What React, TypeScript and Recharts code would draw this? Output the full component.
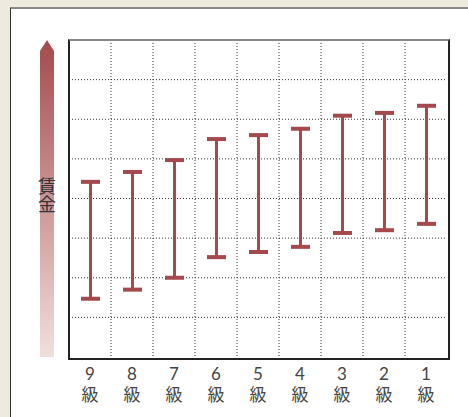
import React from 'react';
import { BarChart, Bar, XAxis, YAxis, CartesianGrid } from 'recharts';

// grades, left to right
const grades = ['9', '8', '7', '6', '5', '4', '3', '2', '1'];
// lower and upper end of each wage band (grid units, 0-8)
const lowValues = [1.47, 1.7, 2.0, 2.52, 2.65, 2.78, 3.13, 3.2, 3.36];
const highValues = [4.42, 4.67, 4.97, 5.5, 5.6, 5.76, 6.09, 6.16, 6.34];
const yTicks = [0, 1, 2, 3, 4, 5, 6, 7, 8];
const gradeSuffix = '級';
const axisTitle = '賃金';

const data = grades.map((g, i) => ({ grade: g, range: [lowValues[i], highValues[i]] }));

const RED = '#a44a4c';
const FONT = "'Noto Sans CJK JP', sans-serif";

const RangeShape = (props: any) => {
	const { x, y, width, height } = props;
	const cx = x + width / 2;
	return (
		<g>
			<rect x={cx - 1.5} y={y} width={3} height={height} fill={RED} />
			<rect x={x} y={y - 2} width={width} height={4} fill={RED} />
			<rect x={x} y={y + height - 2} width={width} height={4} fill={RED} />
		</g>
	);
};

const GradeTick = (props: any) => {
	const { x, y, payload } = props;
	return (
		<g>
			<text x={x} y={y + 15} textAnchor="middle" fill="#444" fontSize={17} fontFamily="Lato, sans-serif">{payload.value}</text>
			<text x={x} y={y + 36} textAnchor="middle" fill="#444" fontSize={17} fontFamily={FONT}>{gradeSuffix}</text>
		</g>
	);
};

export default function App() {
	return (
		<div style={{ position: 'fixed', left: 0, top: 0, width: 468, height: 417, background: '#eeeae0', overflow: 'hidden' }}>
			<div style={{ position: 'absolute', left: 10, top: 7, width: 470, height: 420, background: '#fff', borderLeft: '1px solid #333', borderTop: '2px solid #8a8a8a' }} />
			<div style={{ position: 'absolute', left: 40, top: 40, width: 14, height: 317 }}>
				<svg width={14} height={317}>
					<defs>
						<linearGradient id="wageGrad" x1="0" y1="0" x2="0" y2="1">
							<stop offset="0%" stopColor="#a44a4c" />
							<stop offset="100%" stopColor="#f1dfdc" />
						</linearGradient>
					</defs>
					<path d="M7 0 L14 11 L14 317 L0 317 L0 11 Z" fill="url(#wageGrad)" />
				</svg>
			</div>
			<div style={{ position: 'absolute', left: 37, top: 177, width: 20, fontSize: 18, lineHeight: '20px', color: '#333', fontFamily: FONT, textAlign: 'center', writingMode: 'vertical-rl' }}>
				{axisTitle}
			</div>
			<div style={{ position: 'absolute', left: 0, top: 0 }}>
				<BarChart width={468} height={417} data={data} margin={{ top: 40, right: 21, left: 69, bottom: 20 }}>
					<CartesianGrid
						stroke="#333"
						strokeDasharray="1 2"
						verticalCoordinatesGenerator={({ offset }: any) => grades.slice(1).map((_, i) => offset.left + ((i + 1) * offset.width) / grades.length)}
						horizontalCoordinatesGenerator={({ offset }: any) => yTicks.slice(1, -1).map((t) => offset.top + offset.height - (t * offset.height) / 8)}
					/>
					<XAxis dataKey="grade" height={40} axisLine={false} tickLine={false} interval={0} tick={<GradeTick />} />
					<YAxis hide domain={[0, 8]} ticks={yTicks} />
					<Bar dataKey="range" barSize={19} shape={<RangeShape />} isAnimationActive={false} />
				</BarChart>
			</div>
			<div style={{ position: 'absolute', left: 68, top: 39, width: 378, height: 317, borderLeft: '2px solid #222', borderRight: '2px solid #222', borderBottom: '2px solid #222', borderTop: '2px solid #888', pointerEvents: 'none' }} />
		</div>
	);
}
